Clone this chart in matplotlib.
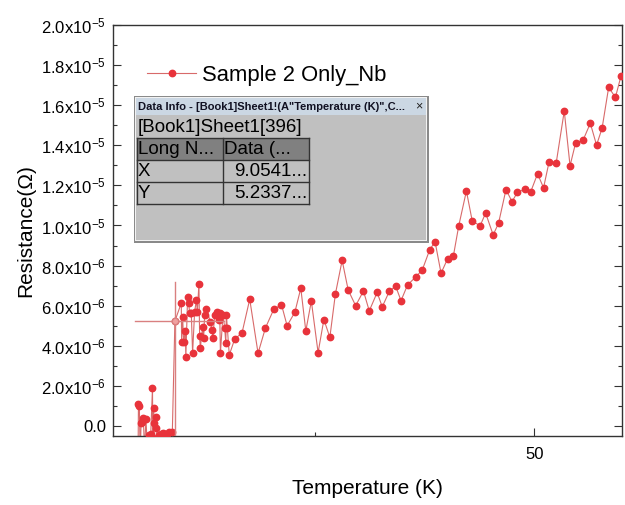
import numpy as np
import matplotlib.pyplot as plt
import matplotlib.patches as mpatches
from matplotlib.ticker import MultipleLocator, FixedLocator, FixedFormatter

plt.rcParams['font.family'] = ['Liberation Sans', 'DejaVu Sans']
plt.rcParams['mathtext.default'] = 'regular'

# Temperatur (K) und Widerstand (in 1e-6 Ohm)
temp_tief = [4.85, 4.9, 5.0, 5.1, 5.2, 5.3, 5.45, 5.6, 5.75, 5.9, 6.1, 6.3,
             6.5, 6.55, 6.62, 6.7, 6.85, 6.95, 7.05, 7.2, 7.42, 7.65, 7.88,
             8.1, 8.4, 8.76, 9.0541]
wid_tief = [-1.8, 1.1, 1.0, -1.5, 0.15, 0.2, 0.4, -1.2, 0.35, -0.9, -0.45,
            -0.4, 1.9, -1.6, 0.9, 0.15, 0.45, -0.1, -0.6, -0.45, -0.4, -0.35,
            -0.42, -0.4, -0.3, -0.3, 5.2337]

temp_mitte = [9.78, 9.82, 9.93, 10.05, 10.24, 10.3, 10.50, 10.62, 10.73,
              10.92, 11.07, 11.30, 11.50, 11.61, 11.79, 11.87, 11.95, 12.21,
              12.33, 12.44, 12.64, 13.09, 13.28, 13.39, 13.58, 13.85, 14.08,
              14.16, 14.24, 14.53, 14.73, 14.85, 14.92, 15.03, 15.25]
wid_mitte = [6.13, 4.19, 5.44, 4.19, 4.74, 3.44, 6.43, 6.13, 5.64, 5.64, 3.64,
             5.69, 6.28, 5.69, 7.08, 4.49, 3.89, 4.94, 4.39, 5.54, 5.84, 5.19,
             4.79, 4.39, 5.54, 5.69, 5.29, 5.64, 3.64, 5.54, 4.89, 4.14, 5.54,
             4.89, 3.54]

temp_hoch = [15.87, 16.70, 17.58, 18.53, 19.37, 20.32, 21.20, 21.84, 22.72,
             23.40, 23.97, 24.60, 25.37, 26.03, 26.71, 27.34, 28.11, 28.80,
             29.65, 30.54, 31.20, 32.10, 32.68, 33.50, 34.21, 34.82, 35.56,
             36.53, 37.24, 38.09, 38.70, 39.38, 40.13, 40.79, 41.40, 42.27,
             42.94, 43.84, 44.46, 45.32, 45.93, 46.78, 47.47, 48.09, 48.97,
             49.58, 50.38, 51.06, 51.68, 52.51, 53.42, 54.08, 54.71, 55.57,
             56.39, 57.10, 57.73, 58.48, 59.25, 59.90]
wid_hoch = [4.34, 4.64, 6.32, 3.63, 4.89, 5.82, 6.05, 5.00, 5.67, 6.87, 4.74,
            6.23, 3.66, 5.31, 4.42, 6.58, 8.26, 6.78, 6.00, 6.73, 5.74, 6.66,
            5.94, 6.73, 6.97, 6.25, 7.03, 7.45, 7.78, 8.79, 9.19, 7.62, 8.34,
            8.49, 9.99, 11.72, 10.21, 9.99, 10.62, 9.53, 10.11, 11.79, 11.19,
            11.66, 11.81, 11.66, 12.58, 11.88, 13.15, 13.14, 15.71, 12.98,
            14.11, 14.26, 15.10, 14.01, 14.85, 16.89, 16.39, 17.48]

# Cursor (Data Info)
cursor_x = 9.0541
cursor_y = 5.2337e-6

y_ticks = [0.0, 2e-6, 4e-6, 6e-6, 8e-6, 1e-5, 1.2e-5, 1.4e-5, 1.6e-5, 1.8e-5, 2e-5]
y_labels = ['0.0', r'2.0x10$^{-6}$', r'4.0x10$^{-6}$', r'6.0x10$^{-6}$',
            r'8.0x10$^{-6}$', r'1.0x10$^{-5}$', r'1.2x10$^{-5}$',
            r'1.4x10$^{-5}$', r'1.6x10$^{-5}$', r'1.8x10$^{-5}$',
            r'2.0x10$^{-5}$']

T = np.array(temp_tief + temp_mitte + temp_hoch)
R = np.array(wid_tief + wid_mitte + wid_hoch) * 1e-6

fig = plt.figure(figsize=(6.25, 5.05), dpi=100)
ax = fig.add_axes([113 / 625, 1 - 436 / 505, 509 / 625, 411 / 505])

rot = '#e8333b'
ax.plot(T, R, '-', color='#d86a6a', lw=0.8, zorder=2)
ax.plot(T, R, 'o', color=rot, ms=4.6, mec=rot, zorder=3)

# Fadenkreuz
ax.plot([4.45, 14.6], [cursor_y, cursor_y], color='#d98080', lw=1.0, zorder=4)
ax.plot([cursor_x, cursor_x], [-1e-6, 7.2e-6], color='#d98080', lw=1.0, zorder=4)
ax.plot([cursor_x], [cursor_y], 'o', ms=4.6, mfc='#f0a0a0', mec='#d98080', zorder=5)

ax.set_xlim(2, 60)
ax.set_ylim(-0.5e-6, 2.0e-5)

ax.xaxis.set_major_locator(FixedLocator([50]))
ax.xaxis.set_minor_locator(FixedLocator([25]))
ax.set_xticklabels(['50'])
ax.yaxis.set_major_locator(FixedLocator(y_ticks))
ax.yaxis.set_major_formatter(FixedFormatter(y_labels))
ax.yaxis.set_minor_locator(MultipleLocator(1e-6))

ax.tick_params(axis='both', which='both', direction='in', colors='#333333',
               labelcolor='black', labelsize=12, top=False, right=True)
ax.tick_params(which='major', length=6, width=0.8, pad=5)
ax.tick_params(which='minor', length=3, width=0.8)
ax.tick_params(axis='x', which='major', pad=8)
for s in ax.spines.values():
    s.set_color('#333333')
    s.set_linewidth(1.0)

ax.set_xlabel('Temperature (K)', fontsize=15, labelpad=12)
ax.set_ylabel('Resistance(Ω)', fontsize=15, labelpad=4)

# Legende
h, = ax.plot([], [], '-o', color='#d86a6a', mfc=rot, mec=rot, ms=4.6, lw=0.8)
leg = ax.legend([h], ['Sample 2 Only_Nb'], loc='center left',
                bbox_to_anchor=(132 / 625, 1 - 75 / 505),
                bbox_transform=fig.transFigure, frameon=False, fontsize=15.8,
                handlelength=2.2, handletextpad=0.3, borderpad=0.2)

# Data Info Fenster (Pixelkoordinaten)
box = fig.add_axes([134 / 625, 1 - 243 / 505, 295 / 625, 147 / 505])
box.set_xlim(134, 429)
box.set_ylim(243, 96)
box.axis('off')
box.add_patch(mpatches.Rectangle((134, 96), 295, 147, facecolor='#8a8a8a',
                                 edgecolor='none'))
box.add_patch(mpatches.Rectangle((135, 97), 292, 144, facecolor='#f2f2f2',
                                 edgecolor='none'))
box.add_patch(mpatches.Rectangle((136, 98), 290, 142, facecolor='#c0c0c0',
                                 edgecolor='none'))
box.add_patch(mpatches.Rectangle((136, 98), 290, 17, facecolor='#cbd7e3',
                                 edgecolor='none'))
box.text(138, 106.5, 'Data Info - [Book1]Sheet1!(A"Temperature (K)",C...',
         fontsize=8, fontweight='bold', va='center', ha='left', color='#111122')
box.text(419, 106.5, '×', fontsize=9, va='center', ha='center', color='#222222')
box.text(138, 127, '[Book1]Sheet1[396]', fontsize=13.5, va='center', ha='left')

zeilen = [138, 160, 182, 204]
box.add_patch(mpatches.Rectangle((136.5, 138), 172.5, 22, facecolor='#808080',
                                 edgecolor='none'))
for yy in zeilen:
    box.plot([136.5, 309], [yy, yy], color='#333333', lw=1.0)
for xx in [136.5, 223, 309]:
    box.plot([xx, xx], [138, 204], color='#333333', lw=1.0)
zellen = [('Long N...', 'Data (...'), ('X', '9.0541...'), ('Y', '5.2337...')]
for k, (a, b) in enumerate(zellen):
    ym = (zeilen[k] + zeilen[k + 1]) / 2
    box.text(138, ym + 0.5, a, fontsize=13.5, va='center', ha='left')
    if k == 0:
        box.text(224.5, ym + 0.5, b, fontsize=13.5, va='center', ha='left')
    else:
        box.text(307, ym + 0.5, b, fontsize=13.5, va='center', ha='right')

fig.savefig('out.png', dpi=100)
